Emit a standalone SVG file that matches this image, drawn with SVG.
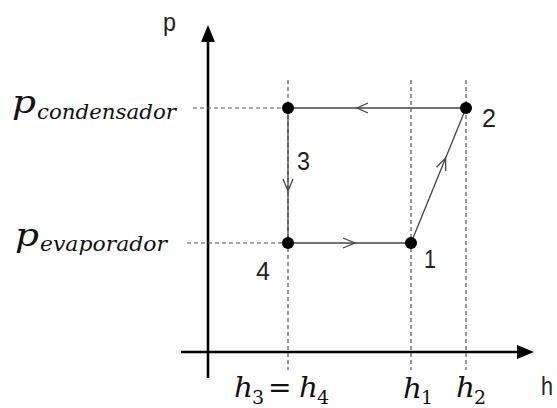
<svg xmlns="http://www.w3.org/2000/svg" width="557" height="408" viewBox="0 0 557 408">
<style>
.axis{stroke:#000;stroke-width:2.6;fill:none}
.dash{stroke:#555;stroke-width:1.2;stroke-dasharray:4,3;fill:none}
.cyc{stroke:#444;stroke-width:1.3;fill:none}
.open{stroke:#444;stroke-width:1.3;fill:none}
.dot{fill:#000}
.num{font-family:"Liberation Sans",Arial,sans-serif;font-size:26px;fill:#222}
.math{font-family:"DejaVu Serif","Liberation Serif",serif;font-style:italic;fill:#111}
.sub{font-family:"DejaVu Serif","Liberation Serif",serif;fill:#111}
</style>
<rect width="557" height="408" fill="#fff"/>
<g id="axes">
<line class="axis" x1="208" y1="40" x2="208" y2="378"/>
<polygon points="208,25 201,42 215,42" fill="#000"/>
<line class="axis" x1="181" y1="352" x2="520" y2="352"/>
<polygon points="534,352 517,345 517,359" fill="#000"/>
<text class="num" x="163" y="31" textLength="13" lengthAdjust="spacingAndGlyphs">p</text>
<text class="num" x="541" y="395" font-size="22" textLength="12" lengthAdjust="spacingAndGlyphs">h</text>
</g>
<g id="guides">
<line class="dash" x1="193" y1="108" x2="288" y2="108"/>
<line class="dash" x1="187" y1="243" x2="288" y2="243"/>
<line class="dash" x1="288" y1="80" x2="288" y2="370"/>
<line class="dash" x1="411" y1="80" x2="411" y2="370"/>
<line class="dash" x1="466" y1="80" x2="466" y2="370"/>
</g>
<g id="connectors">
<line class="cyc" x1="466" y1="108" x2="288" y2="108"/>
<polyline class="open" points="368,103 357,108 368,113"/>
<line class="cyc" x1="288" y1="108" x2="288" y2="243"/>
<polyline class="open" points="283,179 288,191 293,179"/>
<line class="cyc" x1="288" y1="243" x2="411" y2="243"/>
<polyline class="open" points="343,238 355,243 343,248"/>
<line class="cyc" x1="411" y1="243" x2="466" y2="108"/>
<polyline class="open" points="436.5,167.2 445.6,158 445.7,171"/>
</g>
<g id="node1"><circle class="dot" cx="411" cy="243" r="6"/><text class="num" x="424" y="268" textLength="12" lengthAdjust="spacingAndGlyphs">1</text></g>
<g id="node2"><circle class="dot" cx="466" cy="108" r="6"/><text class="num" x="482" y="127" textLength="14" lengthAdjust="spacingAndGlyphs">2</text></g>
<g id="node3"><circle class="dot" cx="288" cy="108" r="6"/><text class="num" x="297" y="170" textLength="13" lengthAdjust="spacingAndGlyphs">3</text></g>
<g id="node4"><circle class="dot" cx="288" cy="243" r="6"/><text class="num" x="256" y="280" textLength="14" lengthAdjust="spacingAndGlyphs">4</text></g>
<g id="labels">
<text class="math" x="12" y="113" font-size="31" textLength="24" lengthAdjust="spacingAndGlyphs">p</text>
<text class="math" x="37" y="119" font-size="21" textLength="139" lengthAdjust="spacingAndGlyphs">condensador</text>
<text class="math" x="15" y="246" font-size="31" textLength="24" lengthAdjust="spacingAndGlyphs">p</text>
<text class="math" x="40" y="251" font-size="21" textLength="127" lengthAdjust="spacingAndGlyphs">evaporador</text>
<text class="math" x="234" y="397" font-size="28" textLength="19" lengthAdjust="spacingAndGlyphs">h</text>
<text class="sub" x="252" y="404" font-size="19">3</text>
<text class="sub" x="268" y="397" font-size="28">=</text>
<text class="math" x="299" y="397" font-size="28" textLength="19" lengthAdjust="spacingAndGlyphs">h</text>
<text class="sub" x="317" y="404" font-size="19">4</text>
<text class="math" x="403" y="398" font-size="28" textLength="19" lengthAdjust="spacingAndGlyphs">h</text>
<text class="sub" x="421" y="404" font-size="19">1</text>
<text class="math" x="456" y="397" font-size="28" textLength="19" lengthAdjust="spacingAndGlyphs">h</text>
<text class="sub" x="474" y="404" font-size="19">2</text>
</g>
</svg>
